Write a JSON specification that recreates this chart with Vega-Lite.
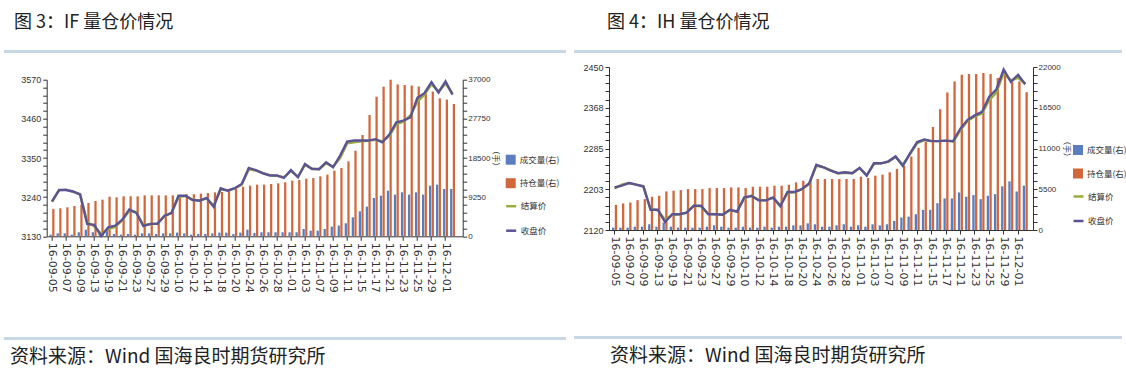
{
"$schema": "https://vega.github.io/schema/vega-lite/v6.json",
"background": "white",
"padding": {"left": 4, "top": 14, "right": 0, "bottom": 0},
"config": {
 "view": {"stroke": null},
 "axis": {"domainColor": "#333", "tickColor": "#333", "labelColor": "#333", "grid": false, "tickSize": 4, "labelPadding": 2, "labelFont": "Liberation Sans", "labelFontSize": 9, "titleFont": "Noto Sans CJK SC", "titleFontWeight": "normal", "titleFontSize": 8, "titleColor": "#333"},
 "legend": {"labelFont": "Noto Sans CJK SC", "labelFontSize": 8.5, "labelColor": "#333", "rowPadding": 12.5, "padding": 0, "symbolSize": 100, "labelOffset": 3},
 "title": {"font": "Noto Sans CJK SC", "fontWeight": "normal", "color": "#222"}
},
"datasets": {
"IF": [
{"date":"16-09-05","成交量(右)":390,"持仓量(右)":6450,"结算价":3227,"收盘价":3228},
{"date":"16-09-06","成交量(右)":700,"持仓量(右)":6610,"结算价":3259,"收盘价":3260},
{"date":"16-09-07","成交量(右)":700,"持仓量(右)":6850,"结算价":3261,"收盘价":3260},
{"date":"16-09-08","成交量(右)":390,"持仓量(右)":7160,"结算价":3255,"收盘价":3256},
{"date":"16-09-09","成交量(右)":950,"持仓量(右)":7480,"结算价":3249,"收盘价":3247},
{"date":"16-09-12","成交量(右)":1570,"持仓量(右)":7870,"结算价":3170,"收盘价":3165},
{"date":"16-09-13","成交量(右)":950,"持仓量(右)":8340,"结算价":3158,"收盘价":3162},
{"date":"16-09-14","成交量(右)":870,"持仓量(右)":8660,"结算价":3137,"收盘价":3131},
{"date":"16-09-19","成交量(右)":1340,"持仓量(右)":9370,"结算价":3150,"收盘价":3155},
{"date":"16-09-20","成交量(右)":550,"持仓量(右)":9210,"结算价":3156,"收盘价":3160},
{"date":"16-09-21","成交量(右)":390,"持仓量(右)":9450,"结算价":3175,"收盘价":3177},
{"date":"16-09-22","成交量(右)":550,"持仓量(右)":9450,"结算价":3202,"收盘价":3205},
{"date":"16-09-23","成交量(右)":390,"持仓量(右)":9450,"结算价":3198,"收盘价":3196},
{"date":"16-09-26","成交量(右)":700,"持仓量(右)":9680,"结算价":3161,"收盘价":3159},
{"date":"16-09-27","成交量(右)":700,"持仓量(右)":9680,"结算价":3164,"收盘价":3165},
{"date":"16-09-28","成交量(右)":550,"持仓量(右)":9680,"结算价":3166,"收盘价":3165},
{"date":"16-09-29","成交量(右)":700,"持仓量(右)":9680,"结算价":3186,"收盘价":3188},
{"date":"16-09-30","成交量(右)":700,"持仓量(右)":9680,"结算价":3196,"收盘价":3195},
{"date":"16-10-10","成交量(右)":870,"持仓量(右)":9680,"结算价":3240,"收盘价":3244},
{"date":"16-10-11","成交量(右)":700,"持仓量(右)":9920,"结算价":3243,"收盘价":3244},
{"date":"16-10-12","成交量(右)":390,"持仓量(右)":9920,"结算价":3233,"收盘价":3232},
{"date":"16-10-13","成交量(右)":550,"持仓量(右)":10080,"结算价":3231,"收盘价":3230},
{"date":"16-10-14","成交量(右)":550,"持仓量(右)":10230,"结算价":3236,"收盘价":3238},
{"date":"16-10-17","成交量(右)":700,"持仓量(右)":10390,"结算价":3216,"收盘价":3213},
{"date":"16-10-18","成交量(右)":870,"持仓量(右)":10470,"结算价":3261,"收盘价":3265},
{"date":"16-10-19","成交量(右)":870,"持仓量(右)":10780,"结算价":3259,"收盘价":3258},
{"date":"16-10-20","成交量(右)":550,"持仓量(右)":11180,"结算价":3264,"收盘价":3265},
{"date":"16-10-21","成交量(右)":870,"持仓量(右)":11730,"结算价":3275,"收盘价":3277},
{"date":"16-10-24","成交量(右)":1570,"持仓量(右)":11970,"结算价":3318,"收盘价":3322},
{"date":"16-10-25","成交量(右)":790,"持仓量(右)":12200,"结算价":3315,"收盘价":3316},
{"date":"16-10-26","成交量(右)":950,"持仓量(右)":12200,"结算价":3308,"收盘价":3307},
{"date":"16-10-27","成交量(右)":950,"持仓量(右)":12360,"结算价":3302,"收盘价":3301},
{"date":"16-10-28","成交量(右)":950,"持仓量(右)":12520,"结算价":3300,"收盘价":3301},
{"date":"16-10-31","成交量(右)":950,"持仓量(右)":12750,"结算价":3296,"收盘价":3294},
{"date":"16-11-01","成交量(右)":950,"持仓量(右)":13150,"结算价":3313,"收盘价":3316},
{"date":"16-11-02","成交量(右)":950,"持仓量(右)":13300,"结算价":3298,"收盘价":3296},
{"date":"16-11-03","成交量(右)":1730,"持仓量(右)":13620,"结算价":3330,"收盘价":3333},
{"date":"16-11-04","成交量(右)":1340,"持仓量(右)":13780,"结算价":3320,"收盘价":3319},
{"date":"16-11-07","成交量(右)":1340,"持仓量(右)":14170,"结算价":3318,"收盘价":3319},
{"date":"16-11-08","成交量(右)":1730,"持仓量(右)":14560,"结算价":3335,"收盘价":3338},
{"date":"16-11-09","成交量(右)":2280,"持仓量(右)":15510,"结算价":3326,"收盘价":3324},
{"date":"16-11-10","成交量(右)":2520,"持仓量(右)":16140,"结算价":3350,"收盘价":3357},
{"date":"16-11-11","成交量(右)":3070,"持仓量(右)":17710,"结算价":3391,"收盘价":3396},
{"date":"16-11-14","成交量(右)":4490,"持仓量(右)":20230,"结算价":3394,"收盘价":3399},
{"date":"16-11-15","成交量(右)":5900,"持仓量(右)":23930,"结算价":3397,"收盘价":3399},
{"date":"16-11-16","成交量(右)":7010,"持仓量(右)":28650,"结算价":3398,"收盘价":3399},
{"date":"16-11-17","成交量(右)":9050,"持仓量(右)":32980,"结算价":3401,"收盘价":3403},
{"date":"16-11-18","成交量(右)":9600,"持仓量(右)":35350,"结算价":3397,"收盘价":3394},
{"date":"16-11-21","成交量(右)":10780,"持仓量(右)":37000,"结算价":3411,"收盘价":3416},
{"date":"16-11-22","成交量(右)":9840,"持仓量(右)":35900,"结算价":3445,"收盘价":3450},
{"date":"16-11-23","成交量(右)":10390,"持仓量(右)":35740,"结算价":3452,"收盘价":3455},
{"date":"16-11-24","成交量(右)":9840,"持仓量(右)":35600,"结算价":3470,"收盘价":3464},
{"date":"16-11-25","成交量(右)":10390,"持仓量(右)":35400,"结算价":3508,"收盘价":3519},
{"date":"16-11-28","成交量(右)":9840,"持仓量(右)":34400,"结算价":3528,"收盘价":3532},
{"date":"16-11-29","成交量(右)":11970,"持仓量(右)":34200,"结算价":3557,"收盘价":3563},
{"date":"16-11-30","成交量(右)":12200,"持仓量(右)":32600,"结算价":3537,"收盘价":3534},
{"date":"16-12-01","成交量(右)":11180,"持仓量(右)":32300,"结算价":3559,"收盘价":3565},
{"date":"16-12-02","成交量(右)":11180,"持仓量(右)":31250,"结算价":3531,"收盘价":3528}
],
"IH": [
{"date":"16-09-05","成交量(右)":320,"持仓量(右)":3400,"结算价":2204,"收盘价":2206},
{"date":"16-09-06","成交量(右)":320,"持仓量(右)":3580,"结算价":2212,"收盘价":2210},
{"date":"16-09-07","成交量(右)":320,"持仓量(右)":3710,"结算价":2215,"收盘价":2215},
{"date":"16-09-08","成交量(右)":450,"持仓量(右)":4030,"结算价":2212,"收盘价":2212},
{"date":"16-09-09","成交量(右)":450,"持仓量(右)":4160,"结算价":2209,"收盘价":2208},
{"date":"16-09-12","成交量(右)":770,"持仓量(右)":4480,"结算价":2162,"收盘价":2161},
{"date":"16-09-13","成交量(右)":450,"持仓量(右)":4620,"结算价":2160,"收盘价":2161},
{"date":"16-09-14","成交量(右)":1000,"持仓量(右)":5210,"结算价":2141,"收盘价":2136},
{"date":"16-09-19","成交量(右)":450,"持仓量(右)":5300,"结算价":2150,"收盘价":2152},
{"date":"16-09-20","成交量(右)":320,"持仓量(右)":5390,"结算价":2152,"收盘价":2152},
{"date":"16-09-21","成交量(右)":320,"持仓量(右)":5520,"结算价":2155,"收盘价":2155},
{"date":"16-09-22","成交量(右)":320,"持仓量(右)":5520,"结算价":2169,"收盘价":2169},
{"date":"16-09-23","成交量(右)":320,"持仓量(右)":5520,"结算价":2168,"收盘价":2169},
{"date":"16-09-26","成交量(右)":450,"持仓量(右)":5660,"结算价":2153,"收盘价":2152},
{"date":"16-09-27","成交量(右)":630,"持仓量(右)":5660,"结算价":2152,"收盘价":2152},
{"date":"16-09-28","成交量(右)":450,"持仓量(右)":5660,"结算价":2151,"收盘价":2151},
{"date":"16-09-29","成交量(右)":320,"持仓量(右)":5750,"结算价":2160,"收盘价":2161},
{"date":"16-09-30","成交量(右)":320,"持仓量(右)":5750,"结算价":2158,"收盘价":2157},
{"date":"16-10-10","成交量(右)":450,"持仓量(右)":5660,"结算价":2184,"收盘价":2186},
{"date":"16-10-11","成交量(右)":320,"持仓量(右)":5840,"结算价":2189,"收盘价":2189},
{"date":"16-10-12","成交量(右)":320,"持仓量(右)":5840,"结算价":2181,"收盘价":2180},
{"date":"16-10-13","成交量(右)":450,"持仓量(右)":5840,"结算价":2180,"收盘价":2180},
{"date":"16-10-14","成交量(右)":320,"持仓量(右)":5980,"结算价":2185,"收盘价":2186},
{"date":"16-10-17","成交量(右)":450,"持仓量(右)":5980,"结算价":2170,"收盘价":2168},
{"date":"16-10-18","成交量(右)":450,"持仓量(右)":6110,"结算价":2195,"收盘价":2197},
{"date":"16-10-19","成交量(右)":630,"持仓量(右)":6430,"结算价":2197,"收盘价":2197},
{"date":"16-10-20","成交量(右)":630,"持仓量(右)":6650,"结算价":2202,"收盘价":2203},
{"date":"16-10-21","成交量(右)":900,"持仓量(右)":6790,"结算价":2213,"收盘价":2214},
{"date":"16-10-24","成交量(右)":770,"持仓量(右)":6880,"结算价":2250,"收盘价":2252},
{"date":"16-10-25","成交量(右)":450,"持仓量(右)":6880,"结算价":2247,"收盘价":2247},
{"date":"16-10-26","成交量(右)":450,"持仓量(右)":6880,"结算价":2241,"收盘价":2240},
{"date":"16-10-27","成交量(右)":630,"持仓量(右)":6880,"结算价":2235,"收盘价":2235},
{"date":"16-10-28","成交量(右)":770,"持仓量(右)":6880,"结算价":2236,"收盘价":2237},
{"date":"16-10-31","成交量(右)":450,"持仓量(右)":6880,"结算价":2235,"收盘价":2235},
{"date":"16-11-01","成交量(右)":630,"持仓量(右)":7200,"结算价":2245,"收盘价":2246},
{"date":"16-11-02","成交量(右)":450,"持仓量(右)":7020,"结算价":2231,"收盘价":2230},
{"date":"16-11-03","成交量(右)":770,"持仓量(右)":7330,"结算价":2254,"收盘价":2255},
{"date":"16-11-04","成交量(右)":630,"持仓量(右)":7470,"结算价":2255,"收盘价":2255},
{"date":"16-11-07","成交量(右)":770,"持仓量(右)":7790,"结算价":2258,"收盘价":2259},
{"date":"16-11-08","成交量(右)":1220,"持仓量(右)":8240,"结算价":2268,"收盘价":2269},
{"date":"16-11-09","成交量(右)":1680,"持仓量(右)":8690,"结算价":2252,"收盘价":2250},
{"date":"16-11-10","成交量(右)":1810,"持仓量(右)":9910,"结算价":2273,"收盘价":2275},
{"date":"16-11-11","成交量(右)":2130,"持仓量(右)":11090,"结算价":2296,"收盘价":2298},
{"date":"16-11-14","成交量(右)":2720,"持仓量(右)":11910,"结算价":2302,"收盘价":2303},
{"date":"16-11-15","成交量(右)":2720,"持仓量(右)":13900,"结算价":2300,"收盘价":2300},
{"date":"16-11-16","成交量(右)":3620,"持仓量(右)":16300,"结算价":2300,"收盘价":2300},
{"date":"16-11-17","成交量(右)":4260,"持仓量(右)":18560,"结算价":2301,"收盘价":2301},
{"date":"16-11-18","成交量(右)":4260,"持仓量(右)":20050,"结算价":2299,"收盘价":2300},
{"date":"16-11-21","成交量(右)":5070,"持仓量(右)":20960,"结算价":2322,"收盘价":2325},
{"date":"16-11-22","成交量(右)":4480,"持仓量(右)":21050,"结算价":2341,"收盘价":2343},
{"date":"16-11-23","成交量(右)":4710,"持仓量(右)":21050,"结算价":2350,"收盘价":2352},
{"date":"16-11-24","成交量(右)":4160,"持仓量(右)":21190,"结算价":2356,"收盘价":2359},
{"date":"16-11-25","成交量(右)":4620,"持仓量(右)":21050,"结算价":2383,"收盘价":2390},
{"date":"16-11-28","成交量(右)":4840,"持仓量(右)":20510,"结算价":2398,"收盘价":2405},
{"date":"16-11-29","成交量(右)":5890,"持仓量(右)":21500,"结算价":2438,"收盘价":2445},
{"date":"16-11-30","成交量(右)":6560,"持仓量(右)":20050,"结算价":2423,"收盘价":2420},
{"date":"16-12-01","成交量(右)":5200,"持仓量(右)":20050,"结算价":2428,"收盘价":2434},
{"date":"16-12-02","成交量(右)":5980,"持仓量(右)":18600,"结算价":2416,"收盘价":2415}
]
},
"hconcat": [
 {
  "vconcat": [
   {
    "vconcat": [
     {"width": 562, "height": 3, "data": {"values": [{}]}, "mark": {"type": "rect", "color": "#c8d7e6"}, "encoding": {},
      "title": {"text": "图 3：IF 量仓价情况", "anchor": "start", "orient": "top", "offset": 18, "dx": 10, "fontSize": 18}},
     {
      "hconcat": [
       {"width": 1, "height": 1, "data": {"values": [{}]}, "mark": {"type": "rect", "opacity": 0}, "encoding": {}},
       {
        "width": 416, "height": 156.6,
        "data": {"name": "IF"},
        "encoding": {"x": {"field": "date", "type": "ordinal", "scale": {"paddingInner": 0.3, "paddingOuter": 0.75, "align": 0.27},
          "axis": {"title": null, "labelAngle": 90, "labelFont": "DejaVu Sans", "labelFontSize": 11,
           "values": ["16-09-05","16-09-07","16-09-09","16-09-13","16-09-19","16-09-21","16-09-23","16-09-27","16-09-29","16-10-10","16-10-12","16-10-14","16-10-18","16-10-20","16-10-24","16-10-26","16-10-28","16-11-01","16-11-03","16-11-07","16-11-09","16-11-11","16-11-15","16-11-17","16-11-21","16-11-23","16-11-25","16-11-29","16-12-01"]}}},
        "layer": [
         {
          "transform": [{"fold": ["成交量(右)", "持仓量(右)"], "as": ["series", "value"]}],
          "mark": {"type": "bar"},
          "encoding": {
           "xOffset": {"field": "series", "type": "nominal", "scale": {"domain": ["成交量(右)", "持仓量(右)"], "paddingInner": 0.15}},
           "y": {"field": "value", "type": "quantitative", "scale": {"domain": [0, 37000], "nice": false},
            "axis": {"orient": "right", "title": "（手）", "titlePadding": 1, "format": "d", "labelFontSize": 8, "labelPadding": 1,
             "values": [0,1850,3700,5550,7400,9250,11100,12950,14800,16650,18500,20350,22200,24050,25900,27750,29600,31450,33300,35150,37000],
             "labelExpr": "datum.value % 9250 == 0 ? datum.label : ''"}},
           "color": {"field": "series", "type": "nominal", "scale": {"domain": ["成交量(右)", "持仓量(右)"], "range": ["#5a7dbf", "#d2673c"]},
            "legend": {"orient": "none", "legendX": 458, "legendY": 74, "title": null, "symbolType": "square"}}
          }
         },
         {
          "transform": [{"fold": ["结算价", "收盘价"], "as": ["series2", "price"]}],
          "mark": {"type": "line", "strokeWidth": 2.4},
          "encoding": {
           "y": {"field": "price", "type": "quantitative", "scale": {"domain": [3130, 3570], "nice": false, "zero": false},
            "axis": {"orient": "left", "title": null, "format": "d",
             "values": [3130,3152,3174,3196,3218,3240,3262,3284,3306,3328,3350,3372,3394,3416,3438,3460,3482,3504,3526,3548,3570],
             "labelExpr": "(datum.value - 3130) % 110 == 0 ? datum.label : ''"}},
           "stroke": {"field": "series2", "type": "nominal", "scale": {"domain": ["结算价", "收盘价"], "range": ["#98ad3e", "#5b5393"]},
            "legend": {"orient": "none", "legendX": 458, "legendY": 120, "title": null, "symbolType": "stroke", "symbolStrokeWidth": 2.5}}
          }
         }
        ],
        "resolve": {"scale": {"y": "independent"}}
       }
      ],
      "spacing": 41.7, "bounds": "flush",
      "resolve": {"scale": {"color": "independent", "stroke": "independent", "xOffset": "independent"}}
     }
    ],
    "spacing": 26.7, "bounds": "flush",
    "resolve": {"scale": {"color": "independent", "stroke": "independent", "xOffset": "independent"}}
   },
   {"width": 562, "height": 3, "data": {"values": [{}]}, "mark": {"type": "rect", "color": "#c8d7e6"}, "encoding": {},
    "title": {"text": "资料来源：Wind 国海良时期货研究所", "anchor": "start", "orient": "bottom", "offset": 8, "dx": 6, "fontSize": 19}}
  ],
  "spacing": 44,
  "resolve": {"scale": {"color": "independent", "stroke": "independent", "xOffset": "independent"}}
 },
 {
  "vconcat": [
   {
    "vconcat": [
     {"width": 548, "height": 3, "data": {"values": [{}]}, "mark": {"type": "rect", "color": "#c8d7e6"}, "encoding": {},
      "title": {"text": "图 4：IH 量仓价情况", "anchor": "start", "orient": "top", "offset": 18, "dx": 33, "fontSize": 18}},
     {
      "hconcat": [
       {"width": 1, "height": 1, "data": {"values": [{}]}, "mark": {"type": "rect", "opacity": 0}, "encoding": {}},
       {
        "width": 424, "height": 163,
        "data": {"name": "IH"},
        "encoding": {"x": {"field": "date", "type": "ordinal", "scale": {"paddingInner": 0.3, "paddingOuter": 0.575, "align": 0.37},
          "axis": {"title": null, "labelAngle": 90, "labelFont": "DejaVu Sans", "labelFontSize": 11,
           "values": ["16-09-05","16-09-07","16-09-09","16-09-13","16-09-19","16-09-21","16-09-23","16-09-27","16-09-29","16-10-10","16-10-12","16-10-14","16-10-18","16-10-20","16-10-24","16-10-26","16-10-28","16-11-01","16-11-03","16-11-07","16-11-09","16-11-11","16-11-15","16-11-17","16-11-21","16-11-23","16-11-25","16-11-29","16-12-01"]}}},
        "layer": [
         {
          "transform": [{"fold": ["成交量(右)", "持仓量(右)"], "as": ["series", "value"]}],
          "mark": {"type": "bar"},
          "encoding": {
           "xOffset": {"field": "series", "type": "nominal", "scale": {"domain": ["成交量(右)", "持仓量(右)"], "paddingInner": 0.15}},
           "y": {"field": "value", "type": "quantitative", "scale": {"domain": [0, 22000], "nice": false},
            "axis": {"orient": "right", "title": "（手）", "titlePadding": 1, "format": "d", "labelFontSize": 8, "labelPadding": 1,
             "values": [0,1100,2200,3300,4400,5500,6600,7700,8800,9900,11000,12100,13200,14300,15400,16500,17600,18700,19800,20900,22000],
             "labelExpr": "datum.value % 5500 == 0 ? datum.label : ''"}},
           "color": {"field": "series", "type": "nominal", "scale": {"domain": ["成交量(右)", "持仓量(右)"], "range": ["#5a7dbf", "#d2673c"]},
            "legend": {"orient": "none", "legendX": 463, "legendY": 77, "title": null, "symbolType": "square"}}
          }
         },
         {
          "transform": [{"fold": ["结算价", "收盘价"], "as": ["series2", "price"]}],
          "mark": {"type": "line", "strokeWidth": 2.4},
          "encoding": {
           "y": {"field": "price", "type": "quantitative", "scale": {"domain": [2120, 2450], "nice": false, "zero": false},
            "axis": {"orient": "left", "title": null, "format": "d",
             "values": [2120,2136.5,2153,2169.5,2186,2202.5,2219,2235.5,2252,2268.5,2285,2301.5,2318,2334.5,2351,2367.5,2384,2400.5,2417,2433.5,2450],
             "labelExpr": "(datum.value - 2120) % 82.5 == 0 ? datum.label : ''"}},
           "stroke": {"field": "series2", "type": "nominal", "scale": {"domain": ["结算价", "收盘价"], "range": ["#98ad3e", "#5b5393"]},
            "legend": {"orient": "none", "legendX": 463, "legendY": 123, "title": null, "symbolType": "stroke", "symbolStrokeWidth": 2.5}}
          }
         }
        ],
        "resolve": {"scale": {"y": "independent"}}
       }
      ],
      "spacing": 34, "bounds": "flush",
      "resolve": {"scale": {"color": "independent", "stroke": "independent", "xOffset": "independent"}}
     }
    ],
    "spacing": 14, "bounds": "flush",
    "resolve": {"scale": {"color": "independent", "stroke": "independent", "xOffset": "independent"}}
   },
   {"width": 548, "height": 3, "data": {"values": [{}]}, "mark": {"type": "rect", "color": "#c8d7e6"}, "encoding": {},
    "title": {"text": "资料来源：Wind 国海良时期货研究所", "anchor": "start", "orient": "bottom", "offset": 8, "dx": 36, "fontSize": 19}}
  ],
  "spacing": 50,
  "resolve": {"scale": {"color": "independent", "stroke": "independent", "xOffset": "independent"}}
 }
],
"spacing": 8,
"resolve": {"scale": {"color": "independent", "stroke": "independent", "xOffset": "independent"}}
}
